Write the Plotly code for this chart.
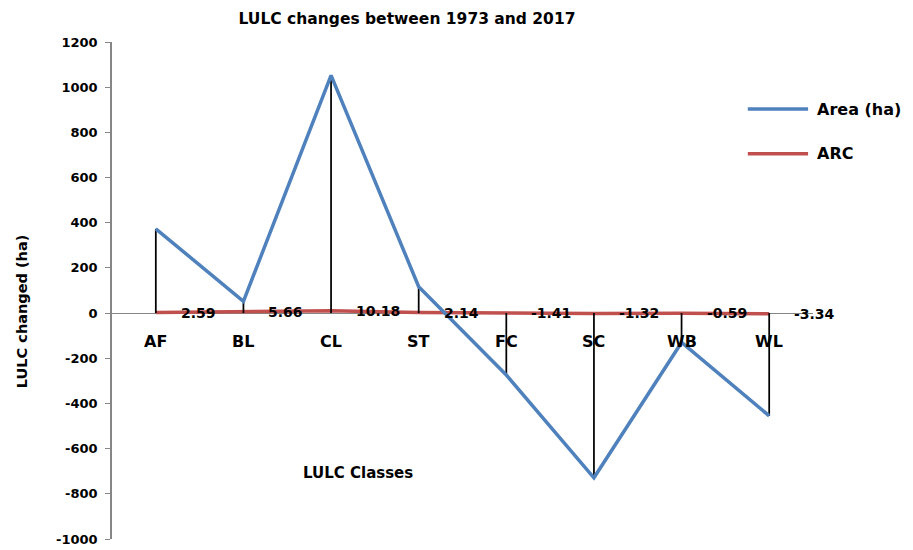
import plotly.graph_objects as go

categories = ["AF", "BL", "CL", "ST", "FC", "SC", "WB", "WL"]
area_ha = [373, 52, 1052, 117, -274, -729, -130, -455]
arc = [2.59, 5.66, 10.18, 2.14, -1.41, -1.32, -0.59, -3.34]
y_ticks = [-1000, -800, -600, -400, -200, 0, 200, 400, 600, 800, 1000, 1200]

FONT = "DejaVu Sans"
BLUE = "#4F81BD"
RED = "#C0504D"
GRAY = "#868686"

fig = go.Figure()

# ARC series (red)
fig.add_trace(go.Scatter(x=categories, y=arc, mode="lines",
                         line=dict(color=RED, width=3.5), name="ARC",
                         showlegend=False, hoverinfo="skip"))

# drop lines
dx, dy = [], []
for c, v in zip(categories, area_ha):
    dx += [c, c, None]
    dy += [0, v, None]
fig.add_trace(go.Scatter(x=dx, y=dy, mode="lines",
                         line=dict(color="black", width=1.75),
                         showlegend=False, hoverinfo="skip"))

# Area series (blue)
fig.add_trace(go.Scatter(x=categories, y=area_ha, mode="lines",
                         line=dict(color=BLUE, width=3.5), name="Area (ha)",
                         showlegend=False))

annotations = []
# ARC data labels
for c, v in zip(categories, arc):
    annotations.append(dict(x=c, y=v, xref="x", yref="y", text=f"{v:.2f}",
                            showarrow=False, xanchor="left", yanchor="middle",
                            xshift=23, yshift=0,
                            font=dict(family=FONT, size=14, color="black", weight="bold")))
# category labels near zero line
for c in categories:
    annotations.append(dict(x=c, y=0, xref="x", yref="y", text=c,
                            showarrow=False, xanchor="center", yanchor="middle",
                            yshift=-28,
                            font=dict(family=FONT, size=16, color="black", weight="bold")))
# axis titles
annotations.append(dict(x=0.351, y=0.133, xref="paper", yref="paper", text="LULC Classes",
                        showarrow=False, xanchor="center", yanchor="middle",
                        font=dict(family=FONT, size=15, color="black", weight="bold")))
annotations.append(dict(x=-0.128, y=0.457, xref="paper", yref="paper", text="LULC changed (ha)",
                        showarrow=False, xanchor="center", yanchor="middle", textangle=-90,
                        font=dict(family=FONT, size=14.5, color="black", weight="bold")))
# legend texts
for ypos, label in [(0.865, "Area (ha)"), (0.775, "ARC")]:
    annotations.append(dict(x=1.0, y=ypos, xref="paper", yref="paper", text=label,
                            showarrow=False, xanchor="left", yanchor="middle", xshift=2,
                            font=dict(family=FONT, size=16, color="black", weight="bold")))

shapes = [
    dict(type="line", xref="paper", yref="paper", x0=0.907, x1=0.993, y0=0.865, y1=0.865,
         line=dict(color=BLUE, width=3.5)),
    dict(type="line", xref="paper", yref="paper", x0=0.907, x1=0.993, y0=0.775, y1=0.775,
         line=dict(color=RED, width=3.5)),
]

# page body has an 8px margin, so the figure is sized/offset to compensate
fig.update_layout(
    width=905, height=542,
    margin=dict(l=104, r=100, t=34, b=11, autoexpand=False),
    paper_bgcolor="white", plot_bgcolor="white",
    showlegend=False,
    title=dict(text="LULC changes between 1973 and 2017", x=399 / 905, xref="container",
               xanchor="center", y=1 - 11 / 542, yanchor="middle", yref="container",
               font=dict(family=FONT, size=15.5, color="black", weight="bold")),
    xaxis=dict(type="category", range=[-0.5, 7.5], showticklabels=False, showline=False,
               showgrid=False, zeroline=False, ticks=""),
    yaxis=dict(range=[-1000, 1200], tickvals=y_ticks, ticktext=[str(v) for v in y_ticks],
               showgrid=False,
               zeroline=True, zerolinecolor=GRAY, zerolinewidth=1.3,
               showline=True, linecolor=GRAY, linewidth=1.5,
               ticks="outside", ticklen=5, tickcolor=GRAY, tickwidth=1.3,
               ticklabelstandoff=5, layer="below traces",
               tickfont=dict(family=FONT, size=13, color="black", weight="bold")),
    annotations=annotations,
    shapes=shapes,
)

fig.write_html("out.html")
